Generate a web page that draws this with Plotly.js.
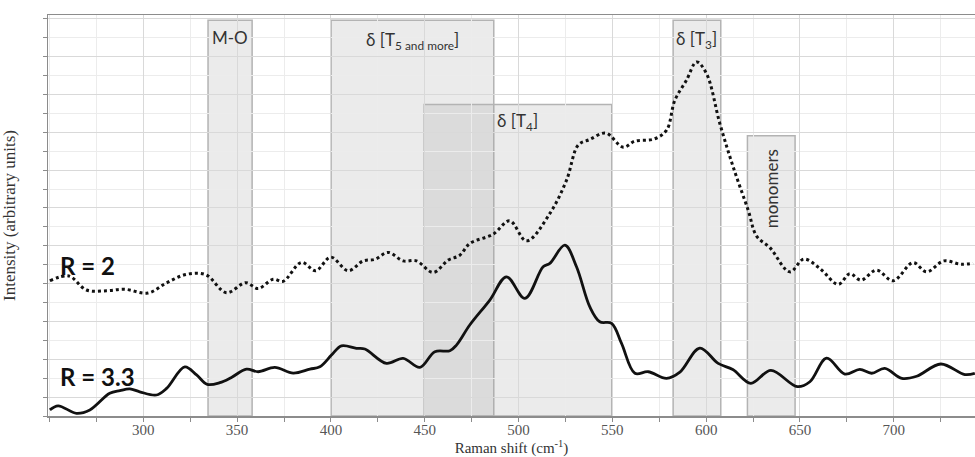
<!DOCTYPE html>
<html>
<head>
<meta charset="utf-8">
<script src="https://cdn.plot.ly/plotly-3.0.1.min.js"></script>
<style>html,body{margin:0;padding:0;overflow:hidden;background:#fff}#chart{width:975px;height:457px}</style>
</head>
<body>
<div id="chart"></div>
<script>
// Raman shift (cm-1) and intensity (arbitrary units)
var xR33 = [250.2,254.6,264.4,271.5,282.1,287.5,292.8,298.1,307.0,312.4,322.1,328.4,334.1,340.8,347.0,355.0,361.2,370.1,379.9,388.8,394.1,400.3,405.6,413.6,418.1,429.6,438.5,447.4,455.4,463.4,466.9,474.0,484.7,493.6,503.4,513.1,516.7,524.7,530.9,538.0,543.3,549.6,554.9,562.0,569.1,578.9,586.0,596.6,606.4,614.2,623.8,634.5,648.6,655.3,664.2,673.9,681.9,688.2,695.2,704.3,712.2,725.1,737.9,743.2];
var yR33 = [0.32,0.54,0.14,0.32,1.20,1.34,1.43,1.28,1.11,1.46,2.60,2.17,1.67,1.76,2.04,2.48,2.34,2.57,2.27,2.48,2.60,3.22,3.71,3.58,3.54,2.78,3.05,2.57,3.40,3.45,3.75,4.81,6.13,7.36,6.22,7.89,8.07,9.03,7.89,5.77,4.98,4.90,3.84,2.26,2.34,1.99,2.32,3.59,2.78,2.46,1.73,2.41,1.55,1.81,3.06,2.22,2.47,2.26,2.52,1.99,2.10,2.75,2.19,2.26];

var xR2 = [250.2,260.3,269.7,280.4,290.1,302.4,312.4,323.0,333.3,344.3,354.6,361.2,369.2,374.5,384.3,391.9,399.9,409.2,417.2,423.4,430.5,438.5,445.6,454.5,462.5,468.7,474.0,486.4,495.3,504.3,516.7,525.6,531.8,538.0,546.5,555.8,562.0,572.1,578.9,583.3,589.5,594.9,600.2,607.3,614.4,622.4,626.9,634.0,644.6,652.1,660.6,670.4,676.6,682.5,690.8,699.7,710.3,717.5,726.7,735.8,742.3];
var yR2 = [7.15,7.40,6.66,6.62,6.70,6.50,7.04,7.49,7.47,6.52,7.05,6.74,7.23,7.12,8.12,7.68,8.40,7.68,8.20,8.28,8.65,8.20,8.20,7.59,8.24,8.50,9.12,9.61,10.32,9.26,10.71,12.47,14.32,14.62,14.96,14.21,14.53,14.64,15.11,16.69,17.75,18.72,18.10,15.46,13.17,10.88,9.51,8.90,7.62,8.30,7.80,6.96,7.52,7.18,7.71,7.15,8.11,7.62,8.20,8.02,8.08];

// assignment bands
var bandLabels = ["M-O", "δ [T<sub>5 and more</sub>]", "δ [T<sub>4</sub>]", "δ [T<sub>3</sub>]", "monomers"];
var bandStart  = [334.5, 400.1, 449.7, 582.4, 622.0];
var bandEnd    = [358.0, 486.8, 549.7, 607.8, 647.4];
var bandTop    = [20.92, 20.92, 16.47, 20.92, 14.81];
var labelY     = [20.0, 19.85, 15.55, 19.9, 12.0];
var labelAngle = [0, 0, 0, 0, -90];

var xTicks = [300, 350, 400, 450, 500, 550, 600, 650, 700];
var seriesNames = ["R = 2", "R = 3.3"];

var traces = [
  {x: xR2, y: yR2, name: seriesNames[0], type: 'scatter', mode: 'lines',
   line: {color: '#111', width: 3, dash: '3px,3px', shape: 'spline', smoothing: 1}},
  {x: xR33, y: yR33, name: seriesNames[1], type: 'scatter', mode: 'lines',
   line: {color: '#111', width: 2.8, shape: 'spline', smoothing: 1}}
];

var shapes = bandLabels.map(function(l, i) {
  return {type: 'rect', xref: 'x', yref: 'y', x0: bandStart[i], x1: bandEnd[i], y0: 0, y1: bandTop[i],
    fillcolor: 'rgba(165,165,165,0.22)', line: {color: '#b3b3b3', width: 1.5}, layer: 'below'};
});

var annotations = bandLabels.map(function(l, i) {
  return {text: l, x: (bandStart[i] + bandEnd[i]) / 2, y: labelY[i], xref: 'x', yref: 'y',
    showarrow: false, textangle: labelAngle[i], xanchor: 'center', yanchor: 'middle',
    font: {family: 'Lato, "Open Sans", sans-serif', size: 17, color: '#333'}};
});
annotations.push({text: '<b>' + seriesNames[0] + '</b>', x: 254.6, y: 7.98, xref: 'x', yref: 'y', showarrow: false,
  xanchor: 'left', yanchor: 'middle', font: {family: 'Lato, sans-serif', size: 24, color: '#111'}});
annotations.push({text: '<b>' + seriesNames[1] + '</b>', x: 254.6, y: 2.11, xref: 'x', yref: 'y', showarrow: false,
  xanchor: 'left', yanchor: 'middle', font: {family: 'Lato, sans-serif', size: 24, color: '#111'}});

var layout = {
  width: 975, height: 457,
  margin: {l: 48, r: 0, t: 15, b: 41},
  paper_bgcolor: '#fff', plot_bgcolor: '#fff',
  showlegend: false,
  xaxis: {
    range: [249.2, 743.3], tickmode: 'array', tickvals: xTicks, ticktext: xTicks.map(String),
    ticks: 'outside', ticklen: 4, tickcolor: '#8c8c8c', ticklabelstandoff: -5,
    showgrid: true, gridcolor: '#d9d9d9', gridwidth: 1,
    minor: {dtick: 25, tick0: 250, ticks: 'outside', ticklen: 4, tickcolor: '#8c8c8c', showgrid: true, gridcolor: '#ececec'},
    showline: true, linecolor: '#8c8c8c', linewidth: 1.5, mirror: true,
    zeroline: false,
    tickfont: {family: '"Liberation Serif", "Times New Roman", serif', size: 15, color: '#555'},
    title: {text: 'Raman shift (cm<sup>-1</sup>)', font: {family: '"Liberation Serif", "Times New Roman", serif', size: 15, color: '#333'}, standoff: 9}
  },
  yaxis: {
    range: [0, 21.2], tickmode: 'linear', tick0: 1, dtick: 2,
    ticks: 'outside', ticklen: 4, tickcolor: '#8c8c8c', showticklabels: false,
    showgrid: true, gridcolor: '#d9d9d9', gridwidth: 1,
    minor: {dtick: 1, tick0: 0, ticks: 'outside', ticklen: 4, tickcolor: '#8c8c8c', showgrid: true, gridcolor: '#ececec'},
    showline: true, linecolor: '#8c8c8c', linewidth: 1.5,
    zeroline: false,
    title: {text: 'Intensity (arbitrary units)', font: {family: '"Liberation Serif", "Times New Roman", serif', size: 17, color: '#333'}}
  },
  shapes: shapes,
  annotations: annotations
};

Plotly.newPlot('chart', traces, layout, {displayModeBar: false, staticPlot: true});
</script>
</body>
</html>
